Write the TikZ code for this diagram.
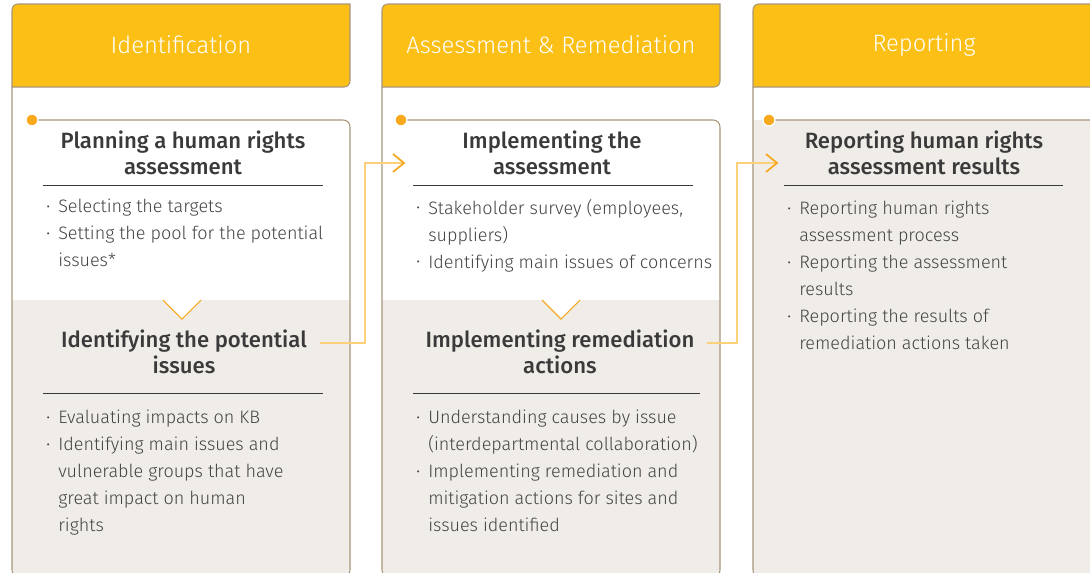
\documentclass[tikz,border=0pt]{standalone}
\usepackage{fontspec}
\setmainfont{Fira Sans Light}[BoldFont={Fira Sans Medium}]
\definecolor{hdr}{HTML}{FBBF16}
\definecolor{framec}{HTML}{A8977B}
\definecolor{panel}{HTML}{F0EDE8}
\definecolor{dotc}{HTML}{F8A91C}
\definecolor{linkc}{HTML}{FDD07A}
\definecolor{tipc}{HTML}{F6A820}
\definecolor{ttlc}{HTML}{3A3A3A}
\definecolor{bodyc}{HTML}{444444}
\newcommand\bl{\makebox[9pt][l]{\raisebox{0.08em}{\fontsize{10pt}{10pt}\selectfont\textbullet}}}
\newcommand\ind{\hspace*{9pt}}
\tikzset{
  hdrtext/.style={text=white, font=\fontsize{17.8pt}{20pt}\selectfont, inner sep=0},
  ttltext/.style={text=ttlc, font=\bfseries\fontsize{16.6pt}{19.5pt}\selectfont, align=center, inner sep=0},
  listtext/.style={text=bodyc, font=\fontsize{13.5pt}{20.25pt}\selectfont, align=left, anchor=north west, inner sep=0},
  rulel/.style={draw=ttlc, line width=0.7pt},
  framel/.style={draw=framec, line width=0.8pt},
  linkl/.style={draw=linkc, line width=0.8pt},
  chev/.style={draw=tipc, line width=1.3pt},
  vnotch/.style={draw=tipc, line width=0.8pt},
  dotst/.style={circle, fill=dotc, draw=white, line width=1pt, minimum size=9pt, inner sep=0},
}
\begin{document}
\begin{tikzpicture}[x=0.75pt, y=-0.75pt]
\useasboundingbox (0,0) rectangle (1090,572);
\clip (0,0) rectangle (1090,572);
% ---------- columns ----------
\foreach \L/\R/\G in {12/350/300, 382/720/300, 753/1098/120}{
  % card fill
  \fill[white] (\L,120) -- ({\R-7},120) .. controls ({\R-3},120) and (\R,123) .. (\R,127)
     -- (\R,570) .. controls (\R,574) and ({\R-3},577) .. ({\R-7},577)
     -- ({\L+7},577) .. controls ({\L+3},577) and (\L,574) .. (\L,570) -- cycle;
  \fill[panel] (\L,\G) -- (\R,\G) -- (\R,570) .. controls (\R,574) and ({\R-3},577) .. ({\R-7},577)
     -- ({\L+7},577) .. controls ({\L+3},577) and (\L,574) .. (\L,570) -- cycle;
  % header
  \path[fill=hdr, framel] (\L,87) -- (\L,10) .. controls (\L,6.5) and ({\L+2.5},4) .. ({\L+6},4)
     -- (\R,4) -- (\R,81) .. controls (\R,84.5) and ({\R-2.5},87) .. ({\R-6},87) -- cycle;
  % frame lines
  \draw[framel] (\L,87) -- (\L,570) .. controls (\L,574) and ({\L+3},577) .. ({\L+7},577);
  \draw[framel] ({\L+20},120) -- ({\R-7},120) .. controls ({\R-3},120) and (\R,123) .. (\R,127)
     -- (\R,570) .. controls (\R,574) and ({\R-3},577) .. ({\R-7},577) -- ({\L+7},577);
}
% V notches
\foreach \c in {182, 561}{
  \fill[white] ({\c-19},299.5) -- (\c,319) -- ({\c+19},299.5) -- cycle;
  \draw[vnotch] ({\c-19},300) -- (\c,319) -- ({\c+19},300);
}
% dots
\node[dotst] (d1) at (32,120) {};
\node[dotst] (d2) at (401,120) {};
\node[dotst] (d3) at (769,120) {};
% headers
\node[hdrtext] (h1) at (181,45) {Identification};
\node[hdrtext] (h2) at (551,45) {Assessment \& Remediation};
\node[hdrtext] (h3) at (924,45) {Reporting};
% titles
\node[ttltext] (t1a) at (183,153) {Planning a human rights\\assessment};
\node[ttltext] (t1b) at (184,352) {Identifying the potential\\issues};
\node[ttltext] (t2a) at (552,153) {Implementing the\\assessment};
\node[ttltext] (t2b) at (560,352) {Implementing remediation\\actions};
\node[ttltext] (t3a) at (924,153) {Reporting human rights\\assessment results};
% rules
\draw[rulel] (43,185) -- (323,185);
\draw[rulel] (43,393) -- (323,393);
\draw[rulel] (413,185) -- (693,185);
\draw[rulel] (413,393) -- (700,393);
\draw[rulel] (784,185) -- (1063,185);
% lists
\node[listtext] (l1a) at (46,199) {\bl Selecting the targets\\\bl Setting the pool for the potential\\\ind issues*};
\node[listtext] (l1b) at (46,410) {\bl Evaluating impacts on KB\\\bl Identifying main issues and\\\ind vulnerable groups that have\\\ind great impact on human\\\ind rights};
\node[listtext] (l2a) at (416,199) {\bl Stakeholder survey (employees,\\\ind suppliers)\\\bl Identifying main issues of concerns};
\node[listtext] (l2b) at (416,410) {\bl Understanding causes by issue\\\ind (interdepartmental collaboration)\\\bl Implementing remediation and\\\ind mitigation actions for sites and\\\ind issues identified};
\node[listtext] (l3) at (787,201) {\bl Reporting human rights\\\ind assessment process\\\bl Reporting the assessment\\\ind results\\\bl Reporting the results of\\\ind remediation actions taken};
% connectors
\coordinate (s1) at (320,343);
\coordinate (e1) at (404,163);
\coordinate (s2) at (707,343);
\coordinate (e2) at (777,163);
\draw[linkl] (s1) -- ++(45,0) |- (e1);
\draw[linkl] (s2) -- ++(30,0) |- (e2);
\draw[chev] ([shift={(-11,-9)}]e1) -- (e1) -- ([shift={(-11,9)}]e1);
\draw[chev] ([shift={(-11,-9)}]e2) -- (e2) -- ([shift={(-11,9)}]e2);
\end{tikzpicture}
\end{document}
